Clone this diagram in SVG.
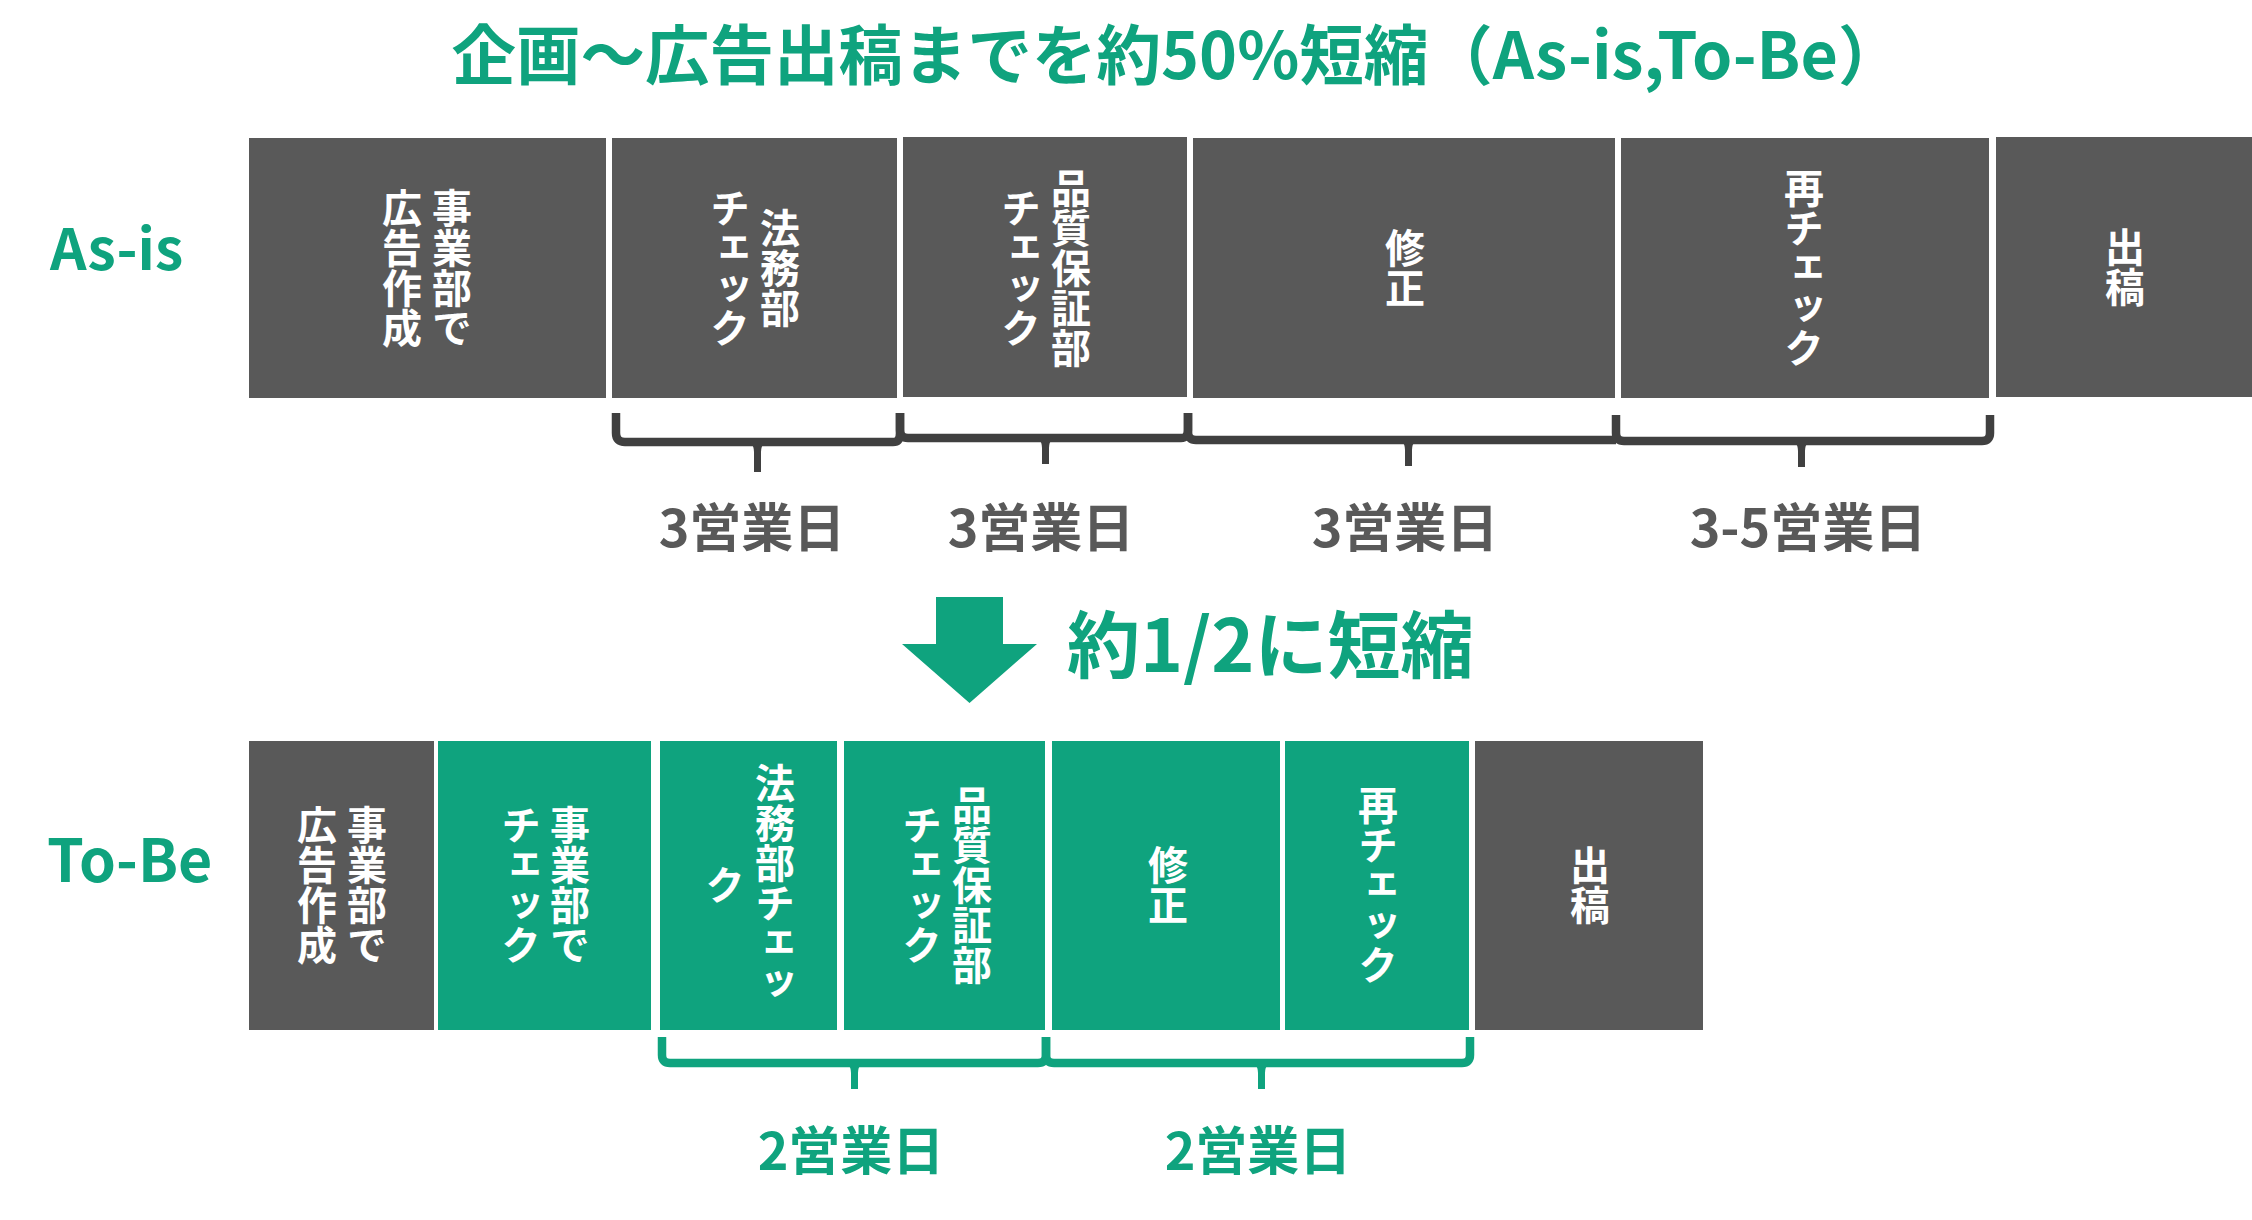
<svg xmlns="http://www.w3.org/2000/svg" width="2252" height="1220" viewBox="0 0 2252 1220">
<style>
text{font-family:"Noto Sans CJK JP","Noto Sans",sans-serif;font-weight:bold}
.g{fill:#595959}
.gr{fill:#0FA37E}
.vt{writing-mode:vertical-rl;fill:#ffffff;font-size:40px;text-anchor:middle}
.lbl{font-size:52px;text-anchor:middle}
.lg{fill:#595959}
.lgr{fill:#0FA37E}
.brg{fill:none;stroke:#404040;stroke-width:8.5;stroke-linejoin:round}
.brgr{fill:none;stroke:#0FA37E;stroke-width:8.5;stroke-linejoin:round}
.tipg{fill:#404040}
.tipgr{fill:#0FA37E}
</style>
<rect width="2252" height="1220" fill="#ffffff"/>
<text id="title" x="1177" y="79" font-size="64.5" text-anchor="middle" fill="#0FA37E">企画〜広告出稿までを約50%短縮（As-is,To-Be）</text>
<text id="label-asis" x="50" y="270" font-size="57" fill="#0FA37E">As-is</text>
<text id="label-tobe" x="47" y="882" font-size="59" fill="#0FA37E">To-Be</text>

<g id="asis-1"><rect class="g" x="249" y="138" width="357" height="260"/><text class="vt" x="452" y="268">事業部で</text><text class="vt" x="402" y="268">広告作成</text></g>
<g id="asis-2"><rect class="g" x="612" y="138" width="285" height="260"/><text class="vt" x="780" y="268">法務部</text><text class="vt" x="730" y="268">チェック</text></g>
<g id="asis-3"><rect class="g" x="903" y="137" width="284" height="260"/><text class="vt" x="1071" y="268">品質保証部</text><text class="vt" x="1021" y="268">チェック</text></g>
<g id="asis-4"><rect class="g" x="1193" y="138" width="422" height="260"/><text class="vt" x="1405" y="268">修正</text></g>
<g id="asis-5"><rect class="g" x="1621" y="138" width="368" height="260"/><text class="vt" x="1804" y="268">再チェック</text></g>
<g id="asis-6"><rect class="g" x="1996" y="137" width="256" height="260"/><text class="vt" x="2125" y="267">出稿</text></g>

<g id="tobe-1"><rect class="g" x="249" y="741" width="185" height="289"/><text class="vt" x="367" y="885">事業部で</text><text class="vt" x="317" y="885">広告作成</text></g>
<g id="tobe-2"><rect class="gr" x="438" y="741" width="213" height="289"/><text class="vt" x="570" y="885">事業部で</text><text class="vt" x="521" y="885">チェック</text></g>
<g id="tobe-3"><rect class="gr" x="660" y="741" width="177" height="289"/><text class="vt" x="775" y="883">法務部チェッ</text><text class="vt" x="725" y="885">ク</text></g>
<g id="tobe-4"><rect class="gr" x="844" y="741" width="201" height="289"/><text class="vt" x="972" y="885">品質保証部</text><text class="vt" x="922" y="885">チェック</text></g>
<g id="tobe-5"><rect class="gr" x="1052" y="741" width="228" height="289"/><text class="vt" x="1168" y="885">修正</text></g>
<g id="tobe-6"><rect class="gr" x="1285" y="741" width="184" height="289"/><text class="vt" x="1378" y="885">再チェック</text></g>
<g id="tobe-7"><rect class="g" x="1475" y="741" width="228" height="289"/><text class="vt" x="1590" y="885">出稿</text></g>

<g id="connectors">
<polygon id="arrow" fill="#0FA37E" points="936,597 1003,597 1003,644 1037,644 969.5,703 902,644 936,644"/>
<g id="bracket-asis-1"><path class="brg" d="M616 413 V433 Q616 442 625 442 H893 Q900 442 900 433 V413"/><path class="tipg" d="M750 442 L765 442 Q761 446 761 452 L761 472 L754 472 L754 452 Q754 446 750 442 Z"/></g>
<g id="bracket-asis-2"><path class="brg" d="M900 413 V430 Q900 438 908 438 H1181 Q1188 438 1188 430 V413"/><path class="tipg" d="M1038 438 L1053 438 Q1049 442 1049 448 L1049 464 L1042 464 L1042 448 Q1042 442 1038 438 Z"/></g>
<g id="bracket-asis-3"><path class="brg" d="M1188 413 V432 Q1188 440 1196 440 H1616"/><path class="tipg" d="M1401 440 L1416 440 Q1412 444 1412 450 L1412 466 L1405 466 L1405 450 Q1405 444 1401 440 Z"/></g>
<g id="bracket-asis-4"><path class="brg" d="M1616 415 V433 Q1616 441 1624 441 H1982 Q1990 441 1990 433 V415"/><path class="tipg" d="M1794 441 L1809 441 Q1805 445 1805 451 L1805 467 L1798 467 L1798 451 Q1798 445 1794 441 Z"/></g>
<g id="bracket-tobe-1"><path class="brgr" d="M662 1037 V1055 Q662 1063 670 1063 H1038 Q1046 1063 1046 1055 V1037"/><path class="tipgr" d="M847 1063 L862 1063 Q858 1067 858 1073 L858 1089 L851 1089 L851 1073 Q851 1067 847 1063 Z"/></g>
<g id="bracket-tobe-2"><path class="brgr" d="M1046 1037 V1055 Q1046 1063 1054 1063 H1462 Q1470 1063 1470 1055 V1037"/><path class="tipgr" d="M1254 1063 L1269 1063 Q1265 1067 1265 1073 L1265 1089 L1258 1089 L1258 1073 Q1258 1067 1254 1063 Z"/></g>
</g>

<text id="label-a1" class="lbl lg" x="752" y="547">3営業日</text>
<text id="label-a2" class="lbl lg" x="1041" y="547">3営業日</text>
<text id="label-a3" class="lbl lg" x="1405" y="547">3営業日</text>
<text id="label-a4" class="lbl lg" x="1808" y="547">3-5営業日</text>
<text id="label-short" x="1067" y="672" font-size="73" fill="#0FA37E">約1/2に短縮</text>
<text id="label-t1" class="lbl lgr" x="851" y="1170">2営業日</text>
<text id="label-t2" class="lbl lgr" x="1258" y="1170">2営業日</text>
</svg>
